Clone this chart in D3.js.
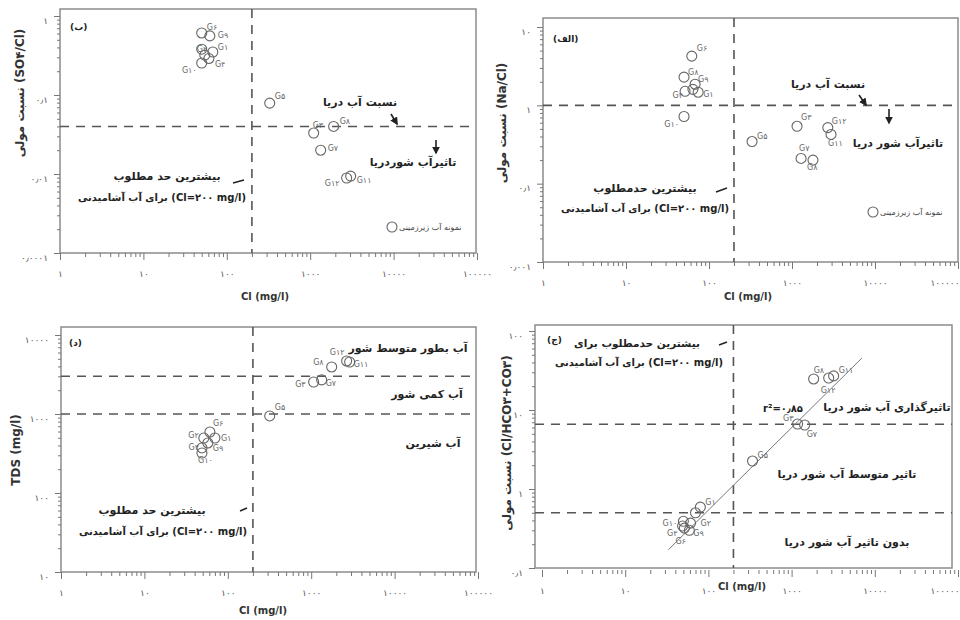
<!DOCTYPE html>
<meta charset="utf-8">
<style>
  body{margin:0;background:#fff;}
  svg text{font-family:"DejaVu Sans", sans-serif;}
  .frame{fill:none;stroke:#8c8c8c;stroke-width:1.5;}
  .dash{stroke:#555;stroke-width:1.6;stroke-dasharray:9,7;fill:none;}
  .pt{fill:none;stroke:#666;stroke-width:1.1;}
  .glab{font-size:8px;fill:#666;}
  .note{font-size:11px;font-weight:bold;fill:#222;}
  .axlab{font-size:11px;font-weight:bold;fill:#333;}
  .tick text{font-size:9px;fill:#555;}
  .tick line{stroke:#777;}
  .fit{stroke:#777;stroke-width:1;fill:none;}
  .arr{stroke:#222;stroke-width:1.6;fill:none;}
</style>

<svg width="960" height="620"></svg>

<script src="https://d3js.org/d3.v7.min.js"></script>
<script>
  // data
  const xTickVals = [1, 10, 100, 1000, 10000, 100000]
  const xTickText = ['۱', '۱۰', '۱۰۰', '۱۰۰۰', '۱۰۰۰۰', '۱۰۰۰۰۰']
  const clLimit = 200

  // (ب) SO4/Cl
  const sLabels = ['G۶', 'G۹', 'G۲', 'G۱', '', 'G۴', 'G۱۰', 'G۵', 'G۳', 'G۸', 'G۷', 'G۱۲', 'G۱۱']
  const sCl = [50, 62.6, 50, 68, 54.5, 61, 50, 327, 1100, 1910, 1335, 2735, 3055]
  const sRatio = [0.61, 0.56, 0.38, 0.35, 0.32, 0.29, 0.254, 0.079, 0.033, 0.040, 0.020, 0.0089, 0.0094]
  const sYTicks = [0.001, 0.01, 0.1, 1]
  const sYText = ['۰٫۰۰۰۱', '۰٫۰۱', '۰٫۱', '۱']
  const seaSO4 = [0.04]

  // (الف) Na/Cl
  const nLabels = ['G۶', 'G۸', 'G۹', 'G۴', '', 'G۱', 'G۱۰', 'G۵', 'G۳', 'G۷', 'G۸', 'G۱۲', 'G۱۱']
  const nCl = [62, 50, 68, 51.5, 64, 74, 50, 330, 1150, 1285, 1790, 2700, 2950]
  const nRatio = [4.25, 2.29, 1.86, 1.51, 1.6, 1.47, 0.72, 0.345, 0.54, 0.21, 0.20, 0.52, 0.425]
  const nYTicks = [0.01, 0.1, 1, 10]
  const nYText = ['۰٫۰۰۱', '۰٫۱', '۱', '۱۰']
  const seaNa = [1]

  // (د) TDS
  const tLabels = ['G۶', 'G۱', 'G۲', 'G۹', 'G۴', 'G۱۰', 'G۵', 'G۳', 'G۷', 'G۸', 'G۱۲', 'G۱۱']
  const tCl = [61, 70, 51.6, 57.6, 49, 49, 318, 1070, 1335, 1760, 2660, 2890]
  const tTDS = [592, 497, 497, 430, 372, 321, 945, 2540, 2700, 3940, 4690, 4550]
  const tYTicks = [10, 100, 1000, 10000]
  const tYText = ['۱۰', '۱۰۰', '۱۰۰۰', '۱۰۰۰۰']
  const tdsLimits = [1000, 3000]

  // (ج) Cl/(HCO3+CO3)
  const cLabels = ['G۸', 'G۱۲', 'G۱۱', 'G۳', 'G۷', 'G۵', 'G۱', '', 'G۱۰', 'G۲', 'G۴', 'G۶', 'G۹']
  const cCl = [1840, 2790, 3200, 1180, 1435, 339, 80, 70, 50, 61, 49, 51.5, 59]
  const cRatio = [24.7, 25.4, 27, 6.65, 6.46, 2.26, 0.59, 0.50, 0.39, 0.37, 0.34, 0.32, 0.30]
  const cYTicks = [0.1, 1, 10, 100]
  const cYText = ['۰٫۱', '۱', '۱۰', '۱۰۰']
  const cLimits = [6.6, 0.5]
  const fitCl = [33, 7000]
  const fitRatio = [0.17, 45.5]

  // label placement [dx, dy, anchor]
  const sPos = {'G۶':[5,-3,'s'],'G۹':[8,2,'s'],'G۲':[-5,3,'s'],'G۱':[5,-2,'s'],'G۴':[6,9,'s'],'G۱۰':[-5,10,'e'],
    'G۵':[5,-4,'s'],'G۳':[-1,-5,'s'],'G۸':[6,-2,'s'],'G۷':[7,1,'s'],'G۱۲':[-7,8,'e'],'G۱۱':[6,7,'s']}
  const nPos = [[5,-5,'s'],[4,-2,'s'],[3,-2,'s'],[-2,7,'e'],[0,0,'s'],[5,5,'s'],[-5,10,'e'],
    [5,-3,'s'],[4,-6,'s'],[-2,-7,'s'],[-6,10,'s'],[4,-4,'s'],[-3,12,'s']]
  const tPos = [[3,-6,'s'],[6,3,'s'],[-5,0,'e'],[5,8,'s'],[-3,2,'e'],[-4,10,'s'],
    [5,-6,'s'],[-8,5,'e'],[4,6,'s'],[-8,-2,'e'],[-2,-6,'e'],[4,5,'s']]
  const cPos = [[0,-6,'s'],[-8,15,'s'],[5,-3,'s'],[-4,-3,'e'],[2,12,'s'],[5,-3,'s'],
    [5,-2,'s'],[0,0,'s'],[-6,5,'e'],[10,3,'s'],[-5,10,'e'],[-9,16,'s'],[4,6,'s']]

  const svg = d3.select('svg')

  function minorTicks(lo, hi){
    let out = []
    for(let p = lo; p < hi; p *= 10){
      for(let k = 2; k <= 9; k++) out.push(p*k)
    }
    return out
  }

  function drawPanel(p){
    let g = svg.append('g')
    let x = d3.scaleLog().domain([1, 100000]).range(p.xr)
    let y = d3.scaleLog().domain(p.yDom).range(p.yr)

    // frame
    g.append('rect').attr('class', 'frame')
      .attr('x', p.f[0]).attr('y', p.f[2])
      .attr('width', p.f[1]-p.f[0]).attr('height', p.f[3]-p.f[2])

    // x axis
    let gx = g.append('g').attr('transform', 'translate(0,'+p.axisY+')')
    gx.append('g').call(d3.axisBottom(x).tickValues(minorTicks(1, 100000)).tickSize(4).tickFormat(''))
    gx.append('g').call(d3.axisBottom(x).tickValues(xTickVals).tickSize(7).tickPadding(11)
      .tickFormat((d, i)=>xTickText[i]))
    gx.selectAll('.domain').remove()
    if(p.endLabel){
      gx.selectAll('.tick text').filter(d=>d==100000).attr('text-anchor', 'end').attr('x', 1)
    }

    // y axis
    let gy = g.append('g').attr('transform', 'translate('+p.f[0]+',0)')
    gy.append('g').call(d3.axisLeft(y).tickValues(minorTicks(p.yDom[0], p.yDom[1])).tickSize(3).tickFormat(''))
    gy.append('g').call(d3.axisLeft(y).tickValues(p.yTicks).tickSize(6).tickPadding(6)
      .tickFormat((d, i)=>p.yText[i]))
    gy.selectAll('.domain').remove()
    gy.selectAll('.tick text').attr('dy', '0.8em')

    // reference lines
    g.append('line').attr('class', 'dash')
      .attr('x1', x(clLimit)).attr('x2', x(clLimit))
      .attr('y1', p.f[2]).attr('y2', p.f[3])
    g.selectAll('.hline').data(p.hLines).enter().append('line').attr('class', 'dash')
      .attr('x1', p.f[0]).attr('x2', p.f[1])
      .attr('y1', d=>y(d)).attr('y2', d=>y(d))

    if(p.fit){
      g.append('path').attr('class', 'fit')
        .attr('d', d3.line().x(d=>x(d[0])).y(d=>y(d[1]))(d3.zip(p.fit[0], p.fit[1])))
    }

    // points
    let pts = p.xs.map((v, i)=>({x: v, y: p.ys[i], lab: p.labs[i], pos: p.pos(i)}))
    g.selectAll('circle.pt').data(pts).enter().append('circle').attr('class', 'pt')
      .attr('cx', d=>x(d.x)).attr('cy', d=>y(d.y)).attr('r', 5)
    g.selectAll('text.glab').data(pts.filter(d=>d.lab)).enter().append('text').attr('class', 'glab')
      .attr('x', d=>x(d.x)+d.pos[0]).attr('y', d=>y(d.y)+d.pos[1])
      .attr('text-anchor', d=>d.pos[2]=='e' ? 'end' : 'start')
      .text(d=>d.lab)

    // texts
    g.append('text').attr('class', 'note').attr('x', p.tag[0]).attr('y', p.tag[1])
      .style('font-size', '9px').text(p.tag[2])
    g.append('text').attr('class', 'axlab').attr('x', p.xLab[0]).attr('y', p.xLab[1])
      .attr('text-anchor', 'middle').style('font-size', '10px').text('Cl (mg/l)')
    g.append('text').attr('class', 'axlab')
      .attr('transform', 'translate('+p.yLab[0]+','+p.yLab[1]+') rotate(-90)')
      .attr('text-anchor', 'middle').style('font-size', '12px').text(p.yLab[2])
    g.selectAll('text.nt').data(p.notes).enter().append('text').attr('class', 'note nt')
      .attr('x', d=>d[0]).attr('y', d=>d[1]).attr('text-anchor', 'middle')
      .style('font-size', d=>(d[3] || 11)+'px').text(d=>d[2])
    g.selectAll('path.arr').data(p.arrows).enter().append('path').attr('class', 'arr')
      .attr('d', d=>'M'+d[0]+','+d[1]+'L'+d[2]+','+d[3])
      .attr('marker-end', d=>d[4] ? 'url(#head)' : null)

    if(p.legend){
      g.append('circle').attr('class', 'pt').attr('cx', p.legend[0]).attr('cy', p.legend[1]).attr('r', 5)
      g.append('text').attr('class', 'glab').attr('x', p.legend[0]+7).attr('y', p.legend[1]+3)
        .style('fill', '#444').text('نمونه آب زیرزمینی')
    }
  }

  svg.append('defs').append('marker').attr('id', 'head')
    .attr('viewBox', '0 0 10 10').attr('refX', 8).attr('refY', 5)
    .attr('markerWidth', 5).attr('markerHeight', 5).attr('orient', 'auto')
    .append('path').attr('d', 'M0,0L10,5L0,10z').attr('fill', '#222')

  const limit1 = 'بیشترین حد مطلوب'
  const limit2 = 'برای آب آشامیدنی (Cl=۲۰۰ mg/l)'

  drawPanel({
    f: [60, 476, 9, 253], xr: [60, 477], axisY: 253,
    yDom: [0.001, 1], yr: [253, 16], yTicks: sYTicks, yText: sYText,
    hLines: seaSO4, xs: sCl, ys: sRatio, labs: sLabels, pos: i=>sPos[sLabels[i]] || [0,0,'s'],
    tag: [70, 30, '(ب)'], xLab: [265, 300], yLab: [24, 93, 'نسبت مولی (SO۴/Cl)'],
    notes: [[360, 106, 'نسبت آب دریا'], [413, 166, 'تاثیرآب شوردریا'], [167, 180, limit1], [162, 201, limit2, 10]],
    arrows: [[391, 114, 397, 124, 1], [436, 140, 436, 153, 1], [233, 183, 244, 180, 0]],
    legend: [392, 227]
  })

  drawPanel({
    f: [543, 958, 18, 262], xr: [543, 958], axisY: 262, endLabel: true,
    yDom: [0.01, 10], yr: [262, 27], yTicks: nYTicks, yText: nYText,
    hLines: seaNa, xs: nCl, ys: nRatio, labs: nLabels, pos: i=>nPos[i],
    tag: [553, 42, '(الف)'], xLab: [748, 300], yLab: [506, 123, 'نسبت مولی (Na/Cl)'],
    notes: [[828, 88, 'نسبت آب دریا'], [898, 147, 'تاثیرآب شور دریا'], [645, 192, 'بیشترین حدمطلوب'], [645, 212, limit2, 10]],
    arrows: [[859, 95, 866, 105, 1], [889, 109, 889, 123, 1], [716, 192, 727, 188, 0]],
    legend: [873, 212]
  })

  drawPanel({
    f: [61, 476, 327, 572], xr: [61, 478], axisY: 572,
    yDom: [10, 10000], yr: [572, 335], yTicks: tYTicks, yText: tYText,
    hLines: tdsLimits, xs: tCl, ys: tTDS, labs: tLabels, pos: i=>tPos[i],
    tag: [69, 346, '(د)'], xLab: [263, 614], yLab: [20, 450, 'TDS (mg/l)'],
    notes: [[408, 352, 'آب بطور متوسط شور'], [427, 398, 'آب کمی شور'], [433, 447, 'آب شیرین'],
      [152, 514, limit1], [163, 535, limit2, 10]],
    arrows: [[240, 511, 247, 508, 0]]
  })

  drawPanel({
    f: [535, 952, 325, 568], xr: [542, 958], axisY: 570, endLabel: true,
    yDom: [0.1, 100], yr: [568, 331], yTicks: cYTicks, yText: cYText,
    hLines: cLimits, xs: cCl, ys: cRatio, labs: cLabels, pos: i=>cPos[i],
    fit: [fitCl, fitRatio],
    tag: [547, 343, '(ج)'], xLab: [742, 590], yLab: [511, 443, 'نسبت مولی (Cl/HCO۳+CO۳)'],
    notes: [[637, 347, 'بیشترین حدمطلوب برای', 10.5], [639, 366, 'برای آب آشامیدنی (Cl=۲۰۰ mg/l)', 10],
      [887, 411, 'تاثیرگذاری آب شور دریا'], [847, 478, 'تاثیر متوسط آب شور دریا'],
      [847, 546, 'بدون تاثیر آب شور دریا'], [783, 412, 'r²=۰٫۸۵', 10]],
    arrows: [[719, 345, 727, 342, 0]]
  })
</script>
